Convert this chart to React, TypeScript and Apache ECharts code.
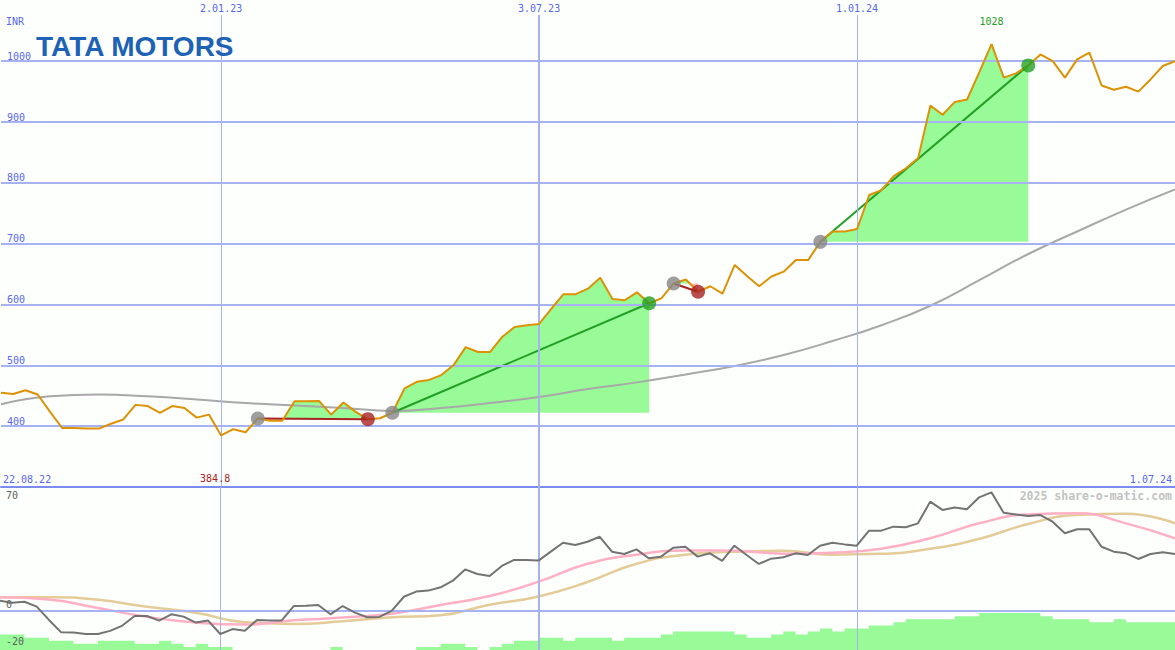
import React, { useEffect, useRef } from "react";
import * as echarts from "echarts";

const MONO = "DejaVu Sans Mono";

// axis ticks (week index from 22.08.22)
const topTickWeeks = [18, 44, 70];
const topTickLabels = ["2.01.23", "3.07.23", "1.01.24"];
const topTickLineWidths = [1, 2, 1];
const edgeWeeks = [0, 96];
const edgeLabels = ["22.08.22", "1.07.24"];
const priceTicks = [400, 500, 600, 700, 800, 900, 1000];
const oscTicks = [-20, 0, 70];

// weekly close (INR)
const price = [
  455, 453, 459, 452, 424, 397, 397, 396, 396, 404,
  411, 435, 433, 422, 433, 430, 414, 419, 384.8, 395,
  390, 412.6, 409, 409, 441, 441, 441.5, 419, 439, 423.5,
  411.5, 413, 422, 462, 473, 476, 484, 500, 530, 522,
  522, 547, 563, 566, 568, 593, 617, 617, 626, 644,
  609, 607, 620, 602, 610, 634.6, 641, 621, 630, 618,
  665, 647, 630, 646, 654, 673, 673, 703, 720, 720,
  724, 780, 788, 811, 824, 841, 927, 912, 933, 937,
  982, 1028, 973, 980, 993, 1011, 1000, 973, 1003, 1014,
  960, 953, 958, 950, 970, 992, 1000,
];

// long moving average, sampled every 4 weeks
const maWeeks = [0, 4, 8, 12, 16, 20, 24, 28, 32, 36, 40, 44, 48, 52, 56, 60, 64, 68, 72, 76, 80, 84, 88, 92, 96];
const ma = [436, 449, 452, 449, 444, 438, 434, 430, 425, 430, 438, 448, 461, 472, 485, 499, 517, 540, 566, 598, 640, 683, 720, 756, 789];

// lower panel oscillator
const oscMain = [
  6.2, 5, 5.6, 2.6, -5.4, -12.9, -13, -13.9, -13.9, -12,
  -8.8, -3, -3, -5.8, -2, -3.4, -7, -5.8, -13.9, -10.9,
  -11.9, -5.4, -5.8, -5.8, 3, 3.2, 3.6, -2, 3, -1,
  -3.8, -3.6, 0.1, 8.6, 11.7, 12.3, 14.3, 18.3, 25.1, 22.3,
  21.1, 27.2, 30.8, 30.8, 30.4, 35.8, 41.2, 39.8, 41.8, 44.8,
  35.8, 34.4, 37.2, 31.8, 32.8, 38.2, 38.8, 32.8, 34.8, 30.2,
  39.4, 33.8, 28.4, 31.6, 32.4, 34.8, 33.8, 39.4, 41.2, 40.2,
  39.4, 48.5, 48.5, 50.9, 50.5, 52.9, 66, 61, 62.4, 61.4,
  68.6, 71.6, 59.3, 58.3, 57.3, 57.9, 53.9, 46.9, 49.3, 49.3,
  38.8, 35.8, 34.8, 31.4, 34.4, 35.4, 34.4,
];
const oscPink = [8.3, 7.0, 1.8, -3.5, -7.0, -8.2, -5.6, -4.0, -1.6, 3.6, 9.0, 17.7, 28.5, 34.0, 36.5, 36.4, 34.6, 35.2, 37.6, 43.9, 52.9, 58.3, 59.0, 52.9, 43.9];
const oscTan = [8.3, 8.3, 6.8, 2.5, -1.0, -6.8, -7.8, -6.2, -3.8, -2.5, 3.8, 8.8, 17.5, 28.5, 34.0, 35.7, 36.3, 34.0, 34.5, 37.5, 43.5, 52.5, 58.0, 58.7, 52.9];

// lower panel histogram (relative volume level)
const volume = [
  5, 5, 4, 4, 3, 3, 2, 2, 3, 3,
  3, 2, 2, 3, 2, 1, 2, 1, 1, 0,
  0, 0, 0, 0, 0, 0, 0, 1, 0, 0,
  0, 0, 0, 0, 1, 1, 2, 2, 1, 0,
  1, 2, 3, 3, 4, 4, 3, 4, 4, 4,
  3, 4, 4, 4, 5, 6, 6, 6, 6, 6,
  5, 4, 4, 5, 6, 5, 6, 7, 6, 7,
  7, 8, 8, 9, 10, 10, 10, 10, 11, 11,
  12, 12, 12, 12, 12, 11, 10, 10, 10, 9,
  9, 10, 9, 9, 9, 9, 9,
];

// trades (week index of entry / exit)
const tradeEntries = [21, 32, 55, 67];
const tradeExits = [30, 53, 57, 84];

const GRID_C = "#a6b2f2";
const SEP_C = "#7c8bef";
const LBL_C = "#5868ee";
const FILL_UP = "#98fb98";
const FILL_DN = "#ffb6c1";
const WIN_C = "#23a023";
const LOSS_C = "#a82222";
const OSC_LBL = "#606060";

function tradeFill(entry: number, exit: number, above: boolean, api: any) {
  const level = price[entry];
  const pts: number[][] = [api.coord([entry, level])];
  for (let i = entry; i <= exit; i++) {
    if (i > entry) {
      const a = price[i - 1] - level;
      const b = price[i] - level;
      if (a * b < 0) pts.push(api.coord([i - 1 + a / (a - b), level]));
    }
    const v = above ? Math.max(price[i], level) : Math.min(price[i], level);
    pts.push(api.coord([i, v]));
  }
  pts.push(api.coord([exit, level]));
  return pts;
}

export default function App() {
  const ref = useRef<HTMLDivElement>(null);

  useEffect(() => {
    if (!ref.current) return;
    const chart = echarts.init(ref.current, undefined, { renderer: "svg" });

    const tradeLineSeries = tradeEntries.map((e, k) => {
      const x = tradeExits[k];
      const win = price[x] > price[e];
      return {
        type: "line",
        xAxisIndex: 0,
        yAxisIndex: 0,
        z: 4,
        symbol: "none",
        silent: true,
        lineStyle: { color: win ? WIN_C : LOSS_C, width: 2 },
        data: [
          [e, price[e]],
          [x, price[x]],
        ],
      };
    });

    const markerData: any[] = [];
    tradeEntries.forEach((e, k) => {
      const x = tradeExits[k];
      const win = price[x] > price[e];
      markerData.push({ value: [e, price[e]], itemStyle: { color: "#868686" } });
      markerData.push({ value: [x, price[x]], itemStyle: { color: win ? WIN_C : LOSS_C } });
    });

    const option: any = {
      animation: false,
      backgroundColor: "#fdfffd",
      grid: [
        { left: 0, right: 0, top: 15, height: 472 },
        { left: 0, right: 0, top: 487, bottom: 0 },
      ],
      xAxis: [
        {
          gridIndex: 0,
          type: "value",
          min: 0,
          max: 96,
          position: "top",
          axisLine: { show: false },
          axisTick: { show: false },
          splitLine: { show: false },
          axisLabel: {
            customValues: topTickWeeks,
            formatter: (v: number) => {
              const i = topTickWeeks.indexOf(v);
              return i >= 0 ? topTickLabels[i] : "";
            },
            color: LBL_C,
            fontFamily: MONO,
            fontSize: 10,
            margin: 2,
          },
        },
        {
          gridIndex: 0,
          type: "value",
          min: 0,
          max: 96,
          position: "bottom",
          axisLine: { show: true, lineStyle: { color: SEP_C, width: 2 } },
          axisTick: { show: false },
          splitLine: { show: false },
          axisLabel: {
            inside: true,
            customValues: edgeWeeks,
            formatter: (v: number) => {
              const i = edgeWeeks.indexOf(v);
              return i >= 0 ? edgeLabels[i] : "";
            },
            alignMinLabel: "left",
            alignMaxLabel: "right",
            padding: [0, 3, 0, 2],
            color: LBL_C,
            fontFamily: MONO,
            fontSize: 10,
            margin: 3,
          },
        },
        { gridIndex: 1, type: "value", min: 0, max: 96, show: false },
      ],
      yAxis: [
        {
          gridIndex: 0,
          type: "value",
          min: 300,
          max: 1075.9,
          axisLine: { show: false },
          axisTick: { show: false },
          splitLine: { show: false },
          axisLabel: {
            inside: true,
            customValues: priceTicks,
            formatter: (v: number) => String(v),
            verticalAlign: "bottom",
            margin: 6,
            color: LBL_C,
            fontFamily: MONO,
            fontSize: 10,
          },
        },
        {
          gridIndex: 1,
          type: "value",
          min: -23.54,
          max: 74.83,
          z: 10,
          axisLine: { show: false },
          axisTick: { show: false },
          splitLine: { show: false },
          axisLabel: {
            inside: true,
            customValues: oscTicks,
            showMinLabel: true,
            showMaxLabel: true,
            hideOverlap: false,
            margin: 6,
            color: OSC_LBL,
            fontFamily: MONO,
            fontSize: 10,
            formatter: (v: number) =>
              v === 0 ? "{up|" + String(v) + "}" : v < 0 ? "{dn|" + String(v) + "}" : "{n|" + String(v) + "}",
            rich: {
              up: { padding: [0, 0, 12, 0], color: OSC_LBL, fontFamily: MONO, fontSize: 10 },
              dn: { padding: [0, 0, 6, 0], color: OSC_LBL, fontFamily: MONO, fontSize: 10 },
              n: { color: OSC_LBL, fontFamily: MONO, fontSize: 10 },
            },
          },
        },
        { gridIndex: 1, type: "value", min: 0, max: 53, show: false },
      ],
      series: [
        {
          type: "line",
          xAxisIndex: 0,
          yAxisIndex: 0,
          z: 1,
          data: [],
          silent: true,
          markLine: {
            silent: true,
            symbol: ["none", "none"],
            label: { show: false },
            data: [
              ...priceTicks.map((v) => ({ yAxis: v, lineStyle: { color: GRID_C, width: 2, type: "solid" } })),
              ...topTickWeeks.map((w, i) => ({
                xAxis: w,
                lineStyle: { color: GRID_C, width: topTickLineWidths[i], type: "solid" },
              })),
            ],
          },
        },
        {
          type: "custom",
          xAxisIndex: 0,
          yAxisIndex: 0,
          z: 2,
          clip: true,
          silent: true,
          data: tradeEntries.map((e, k) => [e, price[e], tradeExits[k]]),
          encode: { x: [0, 2], y: 1 },
          renderItem: (params: any, api: any) => {
            const k = params.dataIndex;
            const e = tradeEntries[k];
            const x = tradeExits[k];
            return {
              type: "group",
              children: [
                { type: "polygon", shape: { points: tradeFill(e, x, true, api) }, style: { fill: FILL_UP } },
                { type: "polygon", shape: { points: tradeFill(e, x, false, api) }, style: { fill: FILL_DN } },
              ],
            };
          },
        },
        {
          type: "line",
          xAxisIndex: 0,
          yAxisIndex: 0,
          z: 3,
          smooth: true,
          symbol: "none",
          silent: true,
          lineStyle: { color: "#a8a8a8", width: 2 },
          data: maWeeks.map((w, i) => [w, ma[i]]),
        },
        ...tradeLineSeries,
        {
          type: "line",
          xAxisIndex: 0,
          yAxisIndex: 0,
          z: 5,
          symbol: "none",
          silent: true,
          lineStyle: { color: "#dc9204", width: 2 },
          data: price.map((p, i) => [i, p]),
        },
        {
          type: "scatter",
          xAxisIndex: 0,
          yAxisIndex: 0,
          z: 6,
          symbolSize: 14,
          silent: true,
          data: markerData,
        },
        // lower panel
        {
          type: "line",
          xAxisIndex: 2,
          yAxisIndex: 1,
          z: 1,
          data: [],
          silent: true,
          markLine: {
            silent: true,
            symbol: ["none", "none"],
            label: { show: false },
            data: [
              { yAxis: 0, lineStyle: { color: GRID_C, width: 2, type: "solid" } },
              ...topTickWeeks.map((w, i) => ({
                xAxis: w,
                lineStyle: { color: GRID_C, width: topTickLineWidths[i], type: "solid" },
              })),
            ],
          },
        },
        {
          type: "line",
          xAxisIndex: 2,
          yAxisIndex: 2,
          z: 2,
          step: "end",
          symbol: "none",
          silent: true,
          lineStyle: { width: 0, color: FILL_UP },
          areaStyle: { color: FILL_UP, opacity: 1 },
          data: volume.map((v, i) => [i, v]),
        },
        {
          type: "line",
          xAxisIndex: 2,
          yAxisIndex: 1,
          z: 3,
          smooth: true,
          symbol: "none",
          silent: true,
          lineStyle: { color: "#e4cc98", width: 2.5 },
          data: maWeeks.map((w, i) => [w, oscTan[i]]),
        },
        {
          type: "line",
          xAxisIndex: 2,
          yAxisIndex: 1,
          z: 4,
          smooth: true,
          symbol: "none",
          silent: true,
          lineStyle: { color: "#ffb0c4", width: 2.5 },
          data: maWeeks.map((w, i) => [w, oscPink[i]]),
        },
        {
          type: "line",
          xAxisIndex: 2,
          yAxisIndex: 1,
          z: 5,
          symbol: "none",
          silent: true,
          lineStyle: { color: "#737373", width: 2 },
          data: oscMain.map((v, i) => [i, v]),
        },
      ],
    };

    chart.setOption(option);

    const minVal = Math.min(...price);
    const maxVal = Math.max(...price);
    const minIdx = price.indexOf(minVal);
    const maxIdx = price.indexOf(maxVal);
    const xMin = chart.convertToPixel({ xAxisIndex: 0 }, minIdx) as number;
    const xMax = chart.convertToPixel({ xAxisIndex: 0 }, maxIdx) as number;

    chart.setOption({
      graphic: [
        {
          type: "text",
          left: 36,
          top: 32,
          z: 10,
          style: {
            text: "TATA MOTORS",
            fill: "#1d62b4",
            font: "bold 28px 'Liberation Sans', Arial, sans-serif",
          },
        },
        {
          type: "text",
          x: 6,
          y: 21,
          z: 10,
          style: { text: "INR", fill: LBL_C, font: `10px '${MONO}'`, textVerticalAlign: "middle" },
        },
        {
          type: "text",
          x: 1172,
          y: 496,
          z: 10,
          style: {
            text: "2025 share-o-matic.com",
            fill: "#c2c2c2",
            font: `bold 11.5px '${MONO}'`,
            textAlign: "right",
            textVerticalAlign: "middle",
          },
        },
        {
          type: "text",
          x: xMin - 6,
          y: 478,
          z: 10,
          style: {
            text: String(minVal),
            fill: LOSS_C,
            font: `10px '${MONO}'`,
            textAlign: "center",
            textVerticalAlign: "middle",
          },
        },
        {
          type: "text",
          x: xMax,
          y: 21,
          z: 10,
          style: {
            text: String(maxVal),
            fill: WIN_C,
            font: `10px '${MONO}'`,
            textAlign: "center",
            textVerticalAlign: "middle",
          },
        },
      ],
    });

    return () => chart.dispose();
  }, []);

  return (
    <div
      ref={ref}
      style={{ position: "absolute", left: 0, top: 0, width: 1175, height: 650 }}
    />
  );
}
